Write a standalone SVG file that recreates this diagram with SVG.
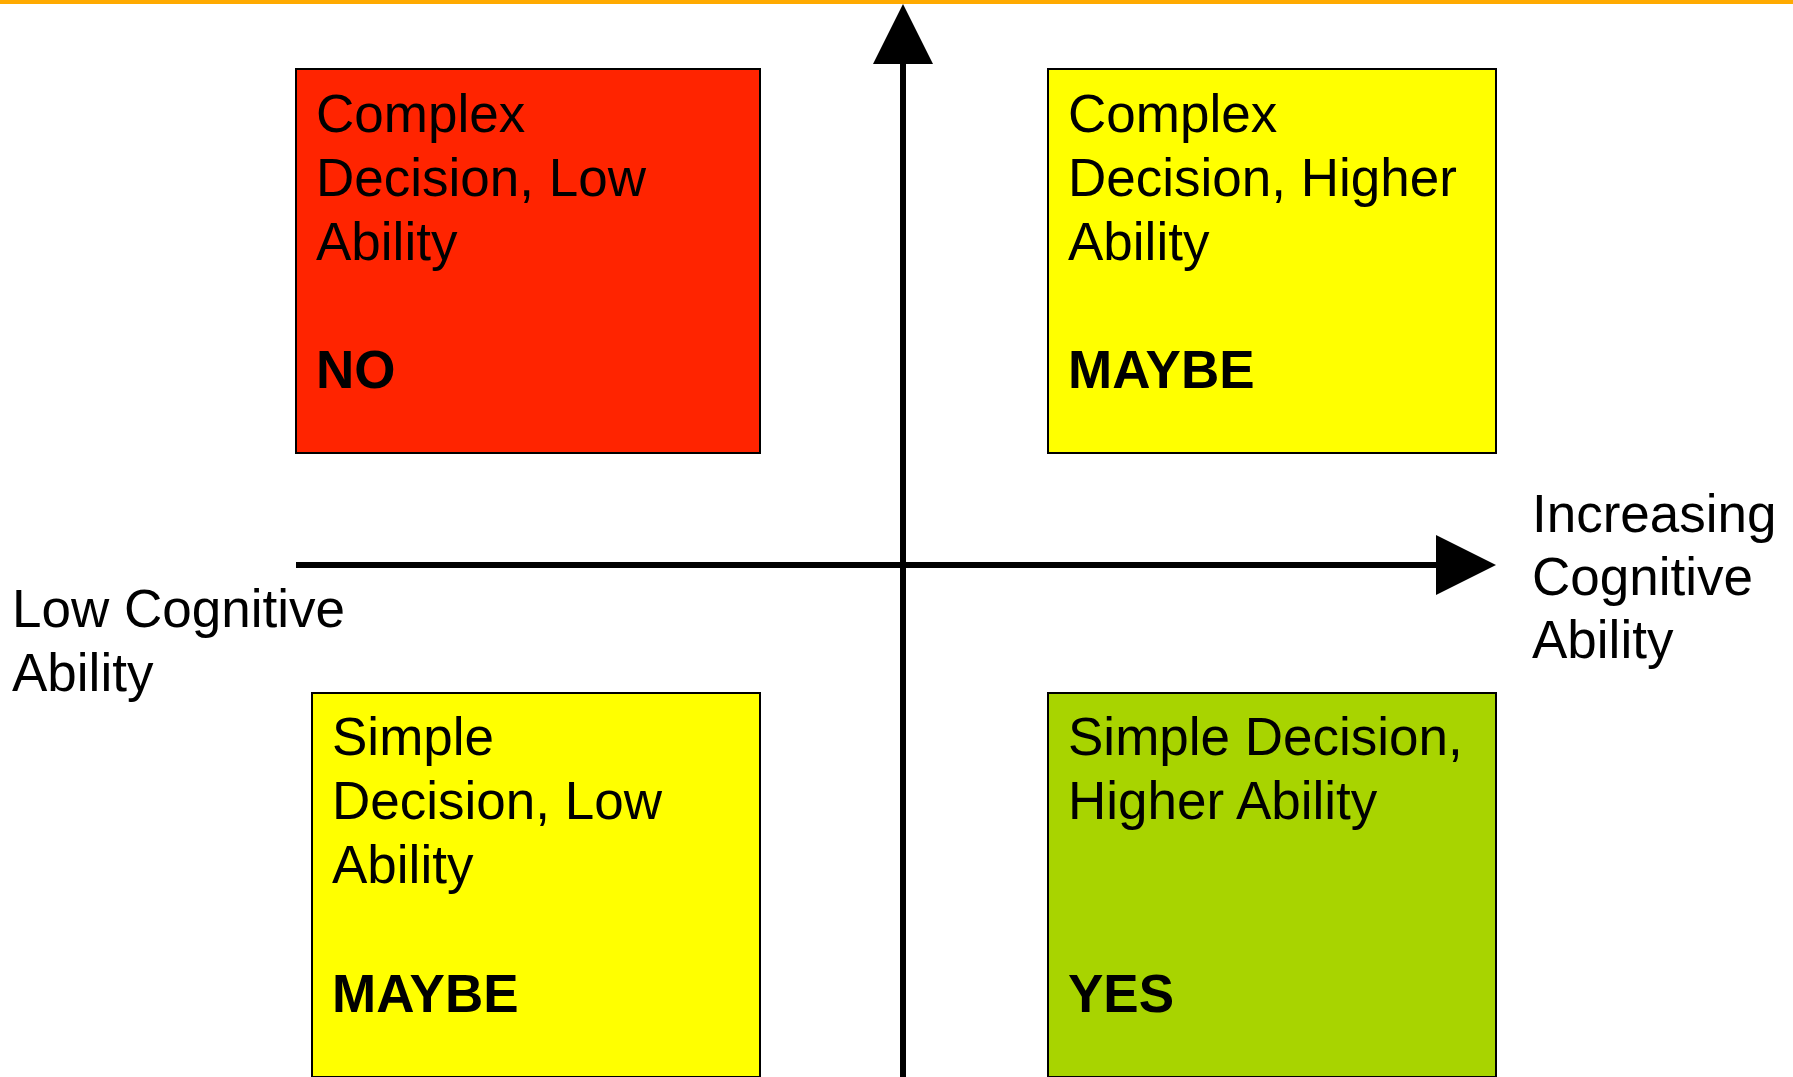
<svg xmlns="http://www.w3.org/2000/svg" width="1793" height="1077" viewBox="0 0 1793 1077">
  <style>
    .box { stroke: #000; stroke-width: 2; }
    .lbl { font-family: "Liberation Sans", Arial, sans-serif; font-size: 53px; fill: #000; }
    .verdict { font-family: "Liberation Sans", Arial, sans-serif; font-size: 53px; font-weight: bold; fill: #000; }
    .axis { stroke: #000; stroke-width: 6; fill: none; }
  </style>
  <defs>
    <marker id="arrowhead" markerUnits="userSpaceOnUse" markerWidth="60" markerHeight="60" refX="0" refY="30" orient="auto" viewBox="0 0 60 60">
      <path d="M0,0 L60,30 L0,60 Z" fill="#000"/>
    </marker>
  </defs>
  <rect width="1793" height="1077" fill="#fff"/>
  <!-- header rule -->
  <rect x="0" y="0" width="1793" height="4" fill="#FFAA00"/>

  <g id="q-complex-low">
    <rect class="box" x="296" y="69" width="464" height="384" fill="#FF2400"/>
    <text class="lbl" x="316" y="132">Complex</text>
    <text class="lbl" x="316" y="196">Decision, Low</text>
    <text class="lbl" x="316" y="260">Ability</text>
    <text class="verdict" x="316" y="388">NO</text>
  </g>

  <g id="q-complex-high">
    <rect class="box" x="1048" y="69" width="448" height="384" fill="#FFFF00"/>
    <text class="lbl" x="1068" y="132">Complex</text>
    <text class="lbl" x="1068" y="196">Decision, Higher</text>
    <text class="lbl" x="1068" y="260">Ability</text>
    <text class="verdict" x="1068" y="388">MAYBE</text>
  </g>

  <g id="q-simple-low">
    <rect class="box" x="312" y="693" width="448" height="384" fill="#FFFF00"/>
    <text class="lbl" x="332" y="755">Simple</text>
    <text class="lbl" x="332" y="819">Decision, Low</text>
    <text class="lbl" x="332" y="883">Ability</text>
    <text class="verdict" x="332" y="1012">MAYBE</text>
  </g>

  <g id="q-simple-high">
    <rect class="box" x="1048" y="693" width="448" height="384" fill="#A8D400"/>
    <text class="lbl" x="1068" y="755">Simple Decision,</text>
    <text class="lbl" x="1068" y="819">Higher Ability</text>
    <text class="verdict" x="1068" y="1012">YES</text>
  </g>

  <g id="axis-labels">
    <text class="lbl" x="12" y="627">Low Cognitive</text>
    <text class="lbl" x="12" y="691">Ability</text>
    <text class="lbl" x="1532" y="532">Increasing</text>
    <text class="lbl" x="1532" y="595">Cognitive</text>
    <text class="lbl" x="1532" y="658">Ability</text>
  </g>

  <g id="connectors">
    <line class="axis" x1="903" y1="1077" x2="903" y2="64" marker-end="url(#arrowhead)"/>
    <line class="axis" x1="296" y1="565" x2="1436" y2="565" marker-end="url(#arrowhead)"/>
  </g>
</svg>
